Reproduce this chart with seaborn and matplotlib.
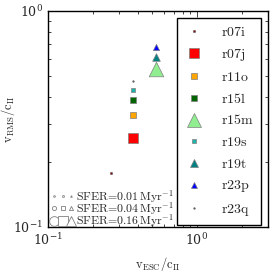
import matplotlib
matplotlib.use("Agg")
import matplotlib.pyplot as plt
import seaborn as sns
import pandas as pd
from matplotlib.lines import Line2D
from matplotlib.legend_handler import HandlerTuple

runs = ["r07i", "r07j", "r11o", "r15l", "r15m", "r19s", "r19t", "r23p", "r23q"]
v_esc = [0.265, 0.371, 0.371, 0.371, 0.531, 0.371, 0.531, 0.531, 0.371]
v_rms = [0.178, 0.258, 0.330, 0.387, 0.538, 0.431, 0.612, 0.681, 0.474]
colors = ["#800000", "#ff0000", "#ffa500", "#006400", "#90ee90", "#20b2aa", "#008080", "#0000ff", "#555555"]
markers = ["o", "s", "s", "s", "^", "s", "^", "^", "o"]
msizes = [1.8, 7.5, 5.0, 3.8, 10.5, 2.6, 5.5, 4.5, 1.2]
sfer_labels = [r"$\mathrm{SFER}\!=\!0.01\,\mathrm{Myr}^{-1}$",
               r"$\mathrm{SFER}\!=\!0.04\,\mathrm{Myr}^{-1}$",
               r"$\mathrm{SFER}\!=\!0.16\,\mathrm{Myr}^{-1}$"]
sfer_sizes = [1.2, 3.0, 7.0]

sns.set_style("ticks")
plt.rcParams["mathtext.fontset"] = "cm"
plt.rcParams["font.family"] = ["DejaVu Serif"]

df = pd.DataFrame({"run": runs, "vesc": v_esc, "vrms": v_rms})

fig = plt.figure(figsize=(2.74, 2.74), dpi=100)
ax = fig.add_axes([48/274, 1-227/274, 220/274, 216/274])

handles = []
for i, r in enumerate(runs):
    sub = df[df.run == r]
    sns.scatterplot(data=sub, x="vesc", y="vrms", ax=ax, color=colors[i], marker=markers[i],
                    s=msizes[i]**2, edgecolor="gray", linewidth=0.5, legend=False, zorder=3)
    handles.append(Line2D([], [], ls="none", marker=markers[i], color=colors[i], markersize=msizes[i],
                          markeredgecolor="gray", markeredgewidth=0.5, label=r"$\mathrm{%s}$" % r))

ax.set_xscale("log")
ax.set_yscale("log")
ax.set_xlim(0.1, 3.0)
ax.set_ylim(0.1, 1.0)
ax.set_xlabel(r"$\mathrm{v_{ESC}/c_{II}}$", fontsize=9)
ax.set_ylabel(r"$\mathrm{v_{RMS}/c_{II}}$", fontsize=9)
ax.xaxis.set_label_coords(0.5, -0.13)
ax.yaxis.set_label_coords(-0.14, 0.5)
ax.tick_params(which="both", direction="in", top=True, right=True, labelsize=9, width=0.6)
ax.tick_params(which="major", length=4)
ax.tick_params(which="minor", length=2)
ax.xaxis.set_minor_formatter(matplotlib.ticker.NullFormatter())
ax.yaxis.set_minor_formatter(matplotlib.ticker.NullFormatter())
for s in ax.spines.values():
    s.set_linewidth(1.0)
    s.set_color("black")

leg1 = ax.legend(handles=handles, loc="upper right", fontsize=10, frameon=True, fancybox=False,
                 edgecolor="black", framealpha=1, labelspacing=0.55, handlelength=1.5,
                 handletextpad=1.2, borderpad=0.5, borderaxespad=0.5)
leg1.get_frame().set_linewidth(1.0)
ax.add_artist(leg1)

tup_handles = []
for sz in sfer_sizes:
    t = tuple(Line2D([], [], ls="none", marker=m, markersize=sz, markerfacecolor="white",
                     markeredgecolor="gray", markeredgewidth=0.6) for m in ["o", "s", "^"])
    tup_handles.append(t)
leg2 = ax.legend(tup_handles, sfer_labels, loc="lower left", fontsize=8.5, frameon=False,
                 handler_map={tuple: HandlerTuple(ndivide=None, pad=0.0)},
                 handlelength=2.1, handletextpad=0.05, labelspacing=-0.4, borderaxespad=0.0,
                 borderpad=0.0, bbox_to_anchor=(0.01, -0.01))

fig.savefig("out.png", dpi=100)
